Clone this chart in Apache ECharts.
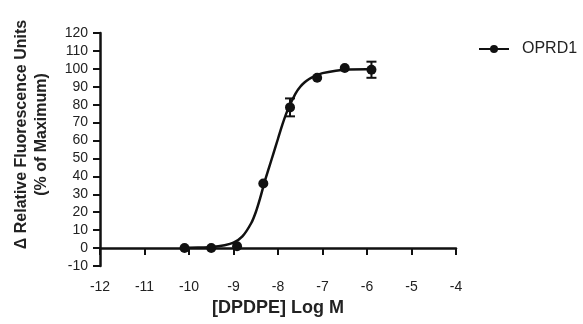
<!DOCTYPE html>
<html><head><meta charset="utf-8">
<script src="https://cdn.jsdelivr.net/npm/echarts@6/dist/echarts.min.js"></script>
<style>html,body{margin:0;padding:0;background:#fff}#c{width:583px;height:324px}</style>
</head><body><div id="c"></div>
<script>
var seriesName = 'OPRD1';
var pointX = [-10.1, -9.5, -8.92, -8.33, -7.73, -7.12, -6.5, -5.9];
var pointY = [0, 0, 1, 36, 78.5, 95, 100.5, 99.5];
var pointErr = [0, 0, 0, 0, 5, 0, 0, 4.5];
var curveX = [-10.1, -9.8, -9.5, -9.2, -9.0, -8.8, -8.6, -8.5, -8.4, -8.3, -8.2, -8.1, -8.0, -7.9, -7.8, -7.7, -7.6, -7.5, -7.4, -7.3, -7.2, -7.0, -6.7, -6.4, -6.0, -5.9];
var curveY = [0.2, 0.3, 0.6, 1.6, 3, 6.5, 14, 20, 28, 37, 45, 53, 61, 69, 76, 81.5, 86.5, 90, 92.5, 94.3, 95.7, 97.6, 99, 99.6, 99.8, 99.8];
var xTicks = [-12, -11, -10, -9, -8, -7, -6, -5, -4];
var yTicks = [-10, 0, 10, 20, 30, 40, 50, 60, 70, 80, 90, 100, 110, 120];

var chart = echarts.init(document.getElementById('c'), null, {renderer: 'canvas'});
var font = 'Liberation Sans, Arial, sans-serif';
var curveData = curveX.map(function (x, i) { return [x, curveY[i]]; });
var pointData = pointX.map(function (x, i) { return [x, pointY[i]]; });
var errData = pointX.map(function (x, i) { return [x, pointY[i] - pointErr[i], pointY[i] + pointErr[i]]; }).filter(function (d, i) { return pointErr[i] > 0; });

chart.setOption({
  animation: false,
  backgroundColor: '#fff',
  grid: {left: 100, right: 127, top: 33, bottom: 58, containLabel: false, outerBoundsMode: 'none'},
  legend: {
    data: [seriesName], left: 473, top: 36,
    itemWidth: 30, itemHeight: 10, itemGap: 10,
    textStyle: {fontFamily: font, fontSize: 16, color: '#222', padding: [0, 0, 0, 8]}
  },
  xAxis: {
    type: 'value', min: xTicks[0], max: xTicks[xTicks.length - 1], interval: 1,
    name: '[DPDPE] Log M', nameLocation: 'middle', nameGap: 32,
    nameTextStyle: {fontFamily: font, fontSize: 18, fontWeight: 'bold', color: '#222'},
    axisLine: {lineStyle: {color: '#111', width: 2.5}},
    axisTick: {length: 7, lineStyle: {color: '#111', width: 2}},
    axisLabel: {fontFamily: font, fontSize: 14, color: '#222', margin: 14},
    splitLine: {show: false}
  },
  yAxis: {
    type: 'value', min: yTicks[0], max: yTicks[yTicks.length - 1], interval: 10,
    name: '\u0394 Relative Fluorescence Units\n(% of Maximum)', nameLocation: 'middle', nameGap: 48, nameRotate: 90,
    nameTextStyle: {fontFamily: font, fontSize: 16, fontWeight: 'bold', color: '#222', lineHeight: 20, padding: [0, 0, 0, 30]},
    axisLine: {onZero: false, lineStyle: {color: '#111', width: 2.5}},
    axisTick: {length: 7, lineStyle: {color: '#111', width: 2}},
    axisLabel: {fontFamily: font, fontSize: 14, color: '#222', margin: 12},
    splitLine: {show: false}
  },
  series: [
    {
      name: seriesName, type: 'line', data: curveData, smooth: 0.3,
      symbol: 'circle', symbolSize: 10, showSymbol: false,
      lineStyle: {color: '#111', width: 2.5}, itemStyle: {color: '#111'}, z: 2
    },
    {
      name: 'points', type: 'scatter', data: pointData, symbol: 'circle', symbolSize: 10,
      itemStyle: {color: '#111', opacity: 1}, z: 3
    },
    {
      name: 'err', type: 'custom', data: errData, z: 3,
      renderItem: function (params, api) {
        var x = api.value(0);
        var lo = api.coord([x, api.value(1)]);
        var hi = api.coord([x, api.value(2)]);
        var w = 5;
        var st = {stroke: '#111', lineWidth: 2};
        return {type: 'group', children: [
          {type: 'line', shape: {x1: lo[0], y1: lo[1], x2: hi[0], y2: hi[1]}, style: st},
          {type: 'line', shape: {x1: lo[0] - w, y1: lo[1], x2: lo[0] + w, y2: lo[1]}, style: st},
          {type: 'line', shape: {x1: hi[0] - w, y1: hi[1], x2: hi[0] + w, y2: hi[1]}, style: st}
        ]};
      }
    }
  ]
});
</script></body></html>
